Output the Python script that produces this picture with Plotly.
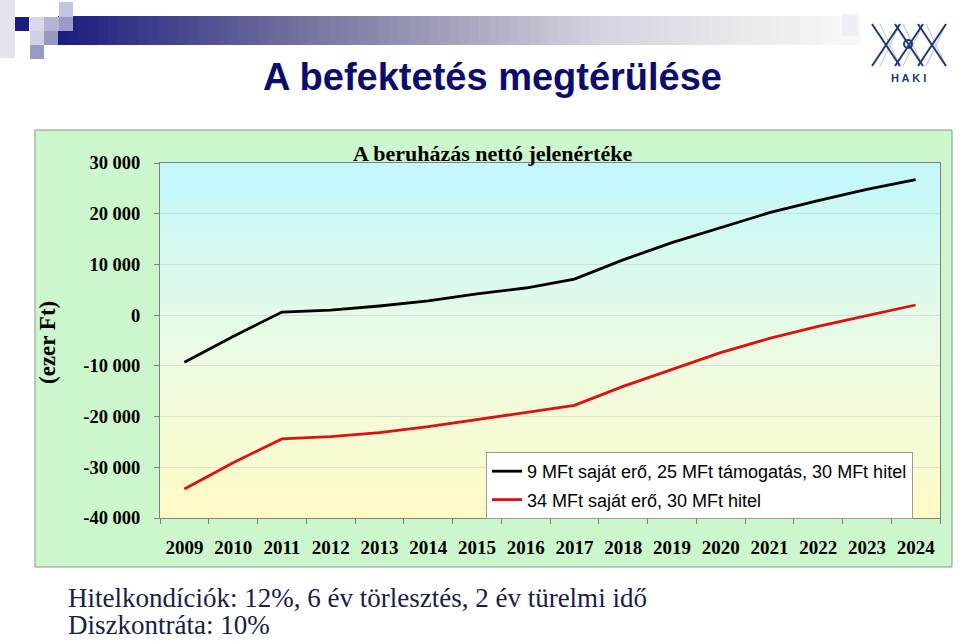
import plotly.graph_objects as go

years = [str(y) for y in range(2009, 2025)]
series_black = [-9300, -4200, 600, 1000, 1800, 2800, 4200, 5350, 7100, 10900,
                14300, 17200, 20200, 22600, 24800, 26700]
series_red = [-34300, -29100, -24400, -23950, -23150, -22000, -20600, -19200,
              -17800, -14050, -10700, -7400, -4600, -2200, -100, 2000]
name_black = "9 MFt saját erő, 25 MFt támogatás, 30 MFt hitel"
name_red = "34 MFt saját erő, 30 MFt hitel"
y_tickvals = [30000, 20000, 10000, 0, -10000, -20000, -30000, -40000]
y_ticktext = ["30 000", "20 000", "10 000", "0", "-10 000", "-20 000", "-30 000", "-40 000"]

W, H = 960, 641
L, R, T, B = 160, 20, 163, 123
PW, PH = W - L - R, H - T - B


def px(x):
    return (x - L) / PW


def py(y):
    return (H - B - y) / PH


def hexrgb(h):
    h = h.lstrip('#')
    return tuple(int(h[i:i + 2], 16) for i in (0, 2, 4))


def interp(stops, t):
    for (t0, c0), (t1, c1) in zip(stops, stops[1:]):
        if t0 <= t <= t1:
            f = (t - t0) / (t1 - t0) if t1 > t0 else 0
            a, b = hexrgb(c0), hexrgb(c1)
            return 'rgb(%d,%d,%d)' % tuple(round(a[i] + (b[i] - a[i]) * f) for i in range(3))
    return stops[-1][1]


shapes = []
# outer chart box
shapes.append(dict(type='rect', xref='paper', yref='paper', x0=px(35), x1=px(952), y0=py(567), y1=py(130),
                   fillcolor='#ccf6cc', line=dict(color='#8a9a8a', width=1), layer='below'))
# plot area gradient
nb = 60
pstops = [(0, '#fffbc6'), (0.45, '#ecfbe2'), (0.75, '#d6faf0'), (1, '#c2f7fd')]
for i in range(nb):
    t0, t1 = i / nb, (i + 1) / nb
    shapes.append(dict(type='rect', xref='paper', yref='paper', x0=0, x1=1, y0=t0, y1=t1 + 0.002,
                       fillcolor=interp(pstops, (t0 + t1) / 2), line=dict(width=0), layer='below'))

# header gradient bar
bstops = [(60, '#1c1c80'), (300, '#72729e'), (470, '#a8a8c0'), (600, '#d4d4e0'), (860, '#fafafa')]
nbar = 80
for i in range(nbar):
    x0 = 58 + (860 - 58) * i / nbar
    x1 = 58 + (860 - 58) * (i + 1) / nbar
    shapes.append(dict(type='rect', xref='paper', yref='paper', x0=px(x0), x1=px(x1) + 0.001,
                       y0=py(45), y1=py(16), fillcolor=interp(bstops, (x0 + x1) / 2),
                       line=dict(width=0), layer='below'))
# decorative squares
sq = [
    (0, 0, 15, 58, '#e4e4ee'),
    (15, 17, 29, 31, '#1c1c80'),
    (30, 17, 44, 31, '#d8d8ea'),
    (44, 17, 59, 31, '#b4b4d4'),
    (59, 2, 73, 17, '#c4c4e0'),
    (59, 17, 73, 31, '#9c9cc8'),
    (30, 31, 44, 45, '#d0d0e6'),
    (44, 31, 58, 45, '#9898c4'),
    (30, 45, 44, 59, '#9a9ac6'),
]
for x0, y0, x1, y1, c in sq:
    shapes.append(dict(type='rect', xref='paper', yref='paper', x0=px(x0), x1=px(x1),
                       y0=py(y1), y1=py(y0), fillcolor=c, line=dict(width=0), layer='below'))
# light block behind logo start
shapes.append(dict(type='rect', xref='paper', yref='paper', x0=px(842), x1=px(858), y0=py(36), y1=py(14),
                   fillcolor='#f0f0f4', line=dict(width=0), layer='below'))

# logo lattice
navy = '#1a3a7a'
top, bot = 24, 66
for xs in [880, 903, 926]:
    shapes.append(dict(type='line', xref='paper', yref='paper', x0=px(xs), y0=py(top), x1=px(xs + 20), y1=py(bot),
                       line=dict(color='#c0c0cc', width=1), layer='above'))
    shapes.append(dict(type='line', xref='paper', yref='paper', x0=px(xs + 20), y0=py(top), x1=px(xs), y1=py(bot),
                       line=dict(color='#c0c0cc', width=1), layer='above'))
for xs in [872, 895, 918]:
    shapes.append(dict(type='line', xref='paper', yref='paper', x0=px(xs), y0=py(top), x1=px(xs + 28), y1=py(bot),
                       line=dict(color=navy, width=2), layer='above'))
for xs in [900, 923, 946]:
    shapes.append(dict(type='line', xref='paper', yref='paper', x0=px(xs), y0=py(top), x1=px(xs - 28), y1=py(bot),
                       line=dict(color=navy, width=2), layer='above'))
shapes.append(dict(type='circle', xref='paper', yref='paper', x0=px(904), x1=px(912), y0=py(48), y1=py(40),
                   line=dict(color=navy, width=2), layer='above'))

serif = 'Liberation Serif, Times New Roman'
annotations = [
    dict(text='<b>A befektetés megtérülése</b>', x=px(492), y=py(77), xref='paper', yref='paper',
         showarrow=False, xanchor='center', yanchor='middle',
         font=dict(family='Liberation Sans, Arial', size=38, color='#0c0c70')),
    dict(text='<b>A beruházás nettó jelenértéke</b>', x=px(492), y=py(153), xref='paper', yref='paper',
         showarrow=False, xanchor='center', yanchor='middle',
         font=dict(family=serif, size=22, color='#000000')),
    dict(text='<b>(ezer Ft)</b>', x=px(47), y=py(342), xref='paper', yref='paper', textangle=-90,
         showarrow=False, xanchor='center', yanchor='middle',
         font=dict(family=serif, size=23, color='#000000')),
    dict(text='Hitelkondíciók: 12%, 6 év törlesztés, 2 év türelmi idő', x=px(66), y=py(598),
         xref='paper', yref='paper', showarrow=False, xanchor='left', yanchor='middle',
         font=dict(family=serif, size=27, color='#16204a')),
    dict(text='Diszkontráta: 10%', x=px(66), y=py(625),
         xref='paper', yref='paper', showarrow=False, xanchor='left', yanchor='middle',
         font=dict(family=serif, size=27, color='#16204a')),
    dict(text='<b>H A K I</b>', x=px(908), y=py(78), xref='paper', yref='paper', showarrow=False,
         xanchor='center', yanchor='middle',
         font=dict(family='Liberation Sans, Arial', size=11, color=navy)),
]

fig = go.Figure()
fig.add_trace(go.Scatter(x=years, y=series_black, mode='lines', name=name_black,
                         line=dict(color='#000000', width=2.8), legendgroup='a'))
fig.add_trace(go.Scatter(x=years, y=series_red, mode='lines', name=name_red,
                         line=dict(color='#e01010', width=2.8), legendgroup='b'))

fig.update_layout(
    width=W, height=H,
    margin=dict(l=L, r=R, t=T, b=B),
    paper_bgcolor='white', plot_bgcolor='rgba(0,0,0,0)',
    shapes=shapes, annotations=annotations,
    showlegend=True,
    legend=dict(x=px(486), y=py(452), xanchor='left', yanchor='top',
                bgcolor='white', bordercolor='#9a9a9a', borderwidth=1,
                font=dict(family='Liberation Sans, Arial', size=18, color='#000000'),
                tracegroupgap=2, traceorder='grouped'),
    xaxis=dict(type='category', range=[-0.5, 15.5], showgrid=False, ticks='outside', tickson='boundaries',
               ticklen=5, tickcolor='#808080', showline=True, linecolor='#808080', mirror=True,
               tickfont=dict(family=serif, size=19, color='#000000', weight='bold'),
               ticklabelstandoff=12, fixedrange=True),
    yaxis=dict(range=[-40000, 30000], tickvals=y_tickvals, ticktext=y_ticktext,
               showgrid=True, gridcolor='rgba(170,190,170,0.35)', gridwidth=1,
               ticks='outside', ticklen=5, tickcolor='#808080', showline=True, linecolor='#808080', mirror=True,
               zeroline=False,
               tickfont=dict(family=serif, size=18.5, color='#000000', weight='bold'),
               ticklabelstandoff=10, fixedrange=True),
    hovermode=False,
)
fig.write_html('out.html', config={'displayModeBar': False},
               post_script="document.body.style.margin='0';document.body.style.padding='0';")
